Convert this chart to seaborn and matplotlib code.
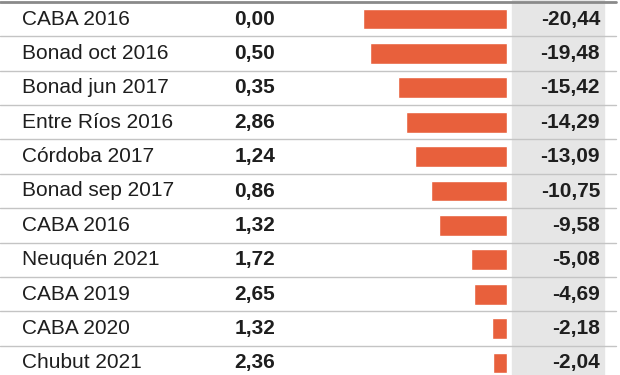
import pandas as pd
import seaborn as sns
from matplotlib import pyplot as plt

sns.set_theme(style='white')
plt.rcParams['font.family'] = ['Liberation Sans', 'DejaVu Sans']

#data
bonds = ['CABA 2016', 'Bonad oct 2016', 'Bonad jun 2017', 'Entre Ríos 2016', 'Córdoba 2017',
         'Bonad sep 2017', 'CABA 2016', 'Neuquén 2021', 'CABA 2019', 'CABA 2020', 'Chubut 2021']
rates = [0.00, 0.50, 0.35, 2.86, 1.24, 0.86, 1.32, 1.72, 2.65, 1.32, 2.36]
changes = [-20.44, -19.48, -15.42, -14.29, -13.09, -10.75, -9.58, -5.08, -4.69, -2.18, -2.04]

def fmt(v):
    return ('%.2f' % v).replace('.', ',')

df = pd.DataFrame({'row': [str(i) for i in range(len(bonds))], 'change': changes})

fig = plt.figure(figsize=(6.2, 3.75), dpi=100)
ax = fig.add_axes([0, 0, 1, 1])

scale = 7.05  #px per unit
zero_px = 507
ax.set_xlim(-zero_px / scale, (620 - zero_px) / scale)
def px(x):
    return (x - zero_px) / scale

#gray column
ax.axvspan(px(512), px(604), color='#e6e6e6', zorder=0)

sns.barplot(data=df, x='change', y='row', orient='h', color='#e8603c', saturation=1,
            width=0.6, ax=ax, zorder=2)

n = len(bonds)
pitch = 34.4
ax.set_ylim(n - 1 + (375 - 363) / pitch, -19 / pitch)

for i in range(n):
    ax.text(px(22), i, bonds[i], ha='left', va='center', fontsize=15, color='#1e1e1e')
    ax.text(px(275), i, fmt(rates[i]), ha='right', va='center', fontsize=15,
            fontweight='bold', color='#1e1e1e')
    ax.text(px(600), i, fmt(changes[i]), ha='right', va='center', fontsize=15,
            fontweight='bold', color='#1e1e1e')
    if i < n - 1:
        ax.plot([px(0), px(616)], [i + 0.5, i + 0.5], color='#c4c4c4', lw=1, zorder=1)

ax.plot([px(0), px(616)], [-0.5, -0.5], color='#8a8a8a', lw=2, zorder=3)

ax.set_xlabel('')
ax.set_ylabel('')
ax.set_xticks([])
ax.set_yticks([])
for s in ax.spines.values():
    s.set_visible(False)

plt.savefig('out.png', dpi=100)
